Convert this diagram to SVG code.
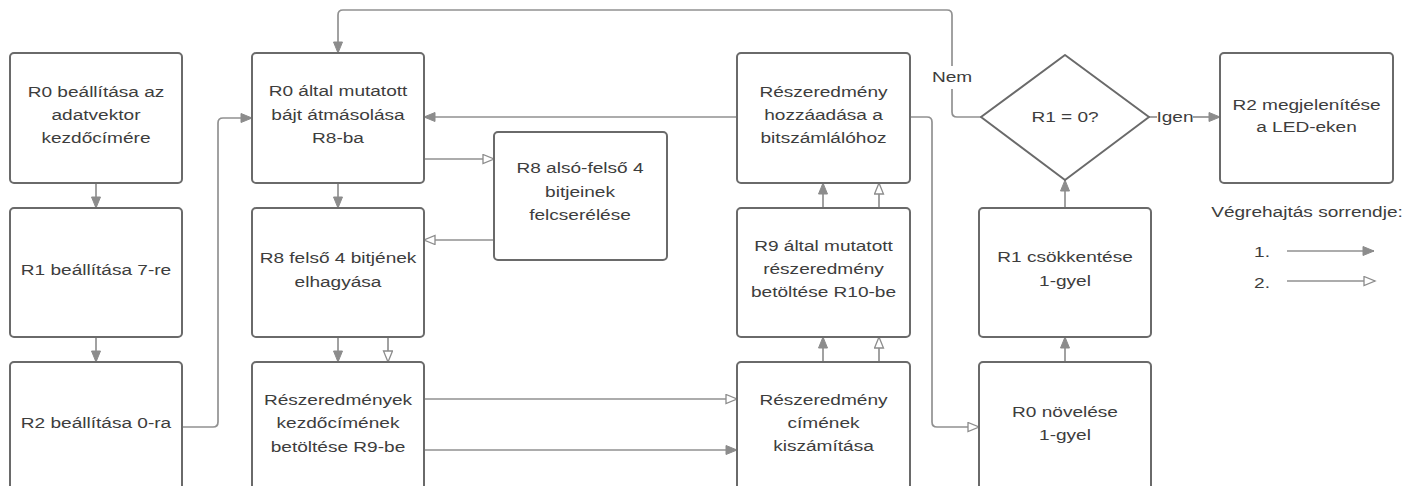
<svg xmlns="http://www.w3.org/2000/svg" width="1418" height="486" viewBox="0 0 1418 486">
<style>
.box{fill:#fff;stroke:#6a6a6a;stroke-width:2}
.t{font-family:"Liberation Sans",Arial,sans-serif;font-size:15.5px;fill:#3d3d3d;text-anchor:middle}
.c{fill:none;stroke:#919191;stroke-width:1.7}
.f{marker-end:url(#af)}
.h{marker-end:url(#ah)}
</style>
<defs>
<marker id="af" markerUnits="userSpaceOnUse" markerWidth="14" markerHeight="12" refX="12" refY="5" orient="auto">
<path d="M1,0.5 L12,5 L1,9.5 z" fill="#8c8c8c" stroke="#8c8c8c" stroke-width="1"/>
</marker>
<marker id="ah" markerUnits="userSpaceOnUse" markerWidth="14" markerHeight="12" refX="12" refY="5" orient="auto">
<path d="M1,0.5 L12,5 L1,9.5 z" fill="#fff" stroke="#8c8c8c" stroke-width="1.3"/>
</marker>
</defs>
<rect width="1418" height="486" fill="#fff"/>

<g id="connectors">
<path class="c f" d="M96 183 V208"/>
<path class="c f" d="M96 337 V362"/>
<path class="c f" d="M182 427 H213 Q218 427 218 422 V123 Q218 118 223 118 H252"/>
<path class="c" d="M981 117 H957 Q952 117 952 112 V89"/>
<path class="c f" d="M952 66 V15 Q952 10 947 10 H343 Q338 10 338 15 V53"/>
<path class="c f" d="M338 183 V208"/>
<path class="c h" d="M424 159 H494"/>
<path class="c h" d="M494 240 H424"/>
<path class="c f" d="M338 337 V362"/>
<path class="c h" d="M388 337 V362"/>
<path class="c h" d="M424 399 H737"/>
<path class="c f" d="M424 450 H737"/>
<path class="c f" d="M823 362 V337"/>
<path class="c h" d="M879 362 V337"/>
<path class="c f" d="M823 208 V183"/>
<path class="c h" d="M879 208 V183"/>
<path class="c f" d="M737 117 H424"/>
<path class="c h" d="M910 117 H927 Q932 117 932 122 V422 Q932 427 937 427 H979"/>
<path class="c f" d="M1065 362 V337"/>
<path class="c f" d="M1065 208 V180"/>
<path class="c" d="M1149 117 H1157"/>
<path class="c f" d="M1193 117 H1220"/>
<text class="t" transform="translate(952 0) scale(1.23 1)" x="0" y="82">Nem</text>
<text class="t" transform="translate(1175 0) scale(1.23 1)" x="0" y="122">Igen</text>
</g>

<g id="n1"><rect class="box" x="10" y="53" width="172" height="130" rx="4"/>
<text class="t" transform="translate(96 0) scale(1.23 1)"><tspan x="0" y="97">R0 beállítása az</tspan><tspan x="0" y="120">adatvektor</tspan><tspan x="0" y="143">kezdőcímére</tspan></text></g>

<g id="n2"><rect class="box" x="10" y="208" width="172" height="129" rx="4"/>
<text class="t" transform="translate(96 0) scale(1.23 1)"><tspan x="0" y="275">R1 beállítása 7-re</tspan></text></g>

<g id="n3"><rect class="box" x="10" y="362" width="172" height="132" rx="4"/>
<text class="t" transform="translate(96 0) scale(1.23 1)"><tspan x="0" y="428">R2 beállítása 0-ra</tspan></text></g>

<g id="n4"><rect class="box" x="252" y="53" width="172" height="130" rx="4"/>
<text class="t" transform="translate(338 0) scale(1.23 1)"><tspan x="0" y="96">R0 által mutatott</tspan><tspan x="0" y="120">bájt átmásolása</tspan><tspan x="0" y="143">R8-ba</tspan></text></g>

<g id="n5"><rect class="box" x="252" y="208" width="172" height="129" rx="4"/>
<text class="t" transform="translate(338 0) scale(1.23 1)"><tspan x="0" y="263">R8 felső 4 bitjének</tspan><tspan x="0" y="287">elhagyása</tspan></text></g>

<g id="n6"><rect class="box" x="252" y="362" width="172" height="132" rx="4"/>
<text class="t" transform="translate(338 0) scale(1.23 1)"><tspan x="0" y="405">Részeredmények</tspan><tspan x="0" y="428">kezdőcímének</tspan><tspan x="0" y="452">betöltése R9-be</tspan></text></g>

<g id="n7"><rect class="box" x="494" y="132" width="173" height="128" rx="4"/>
<text class="t" transform="translate(580 0) scale(1.23 1)"><tspan x="0" y="173">R8 alsó-felső 4</tspan><tspan x="0" y="197">bitjeinek</tspan><tspan x="0" y="220">felcserélése</tspan></text></g>

<g id="n8"><rect class="box" x="737" y="53" width="173" height="130" rx="4"/>
<text class="t" transform="translate(823.5 0) scale(1.23 1)"><tspan x="0" y="97">Részeredmény</tspan><tspan x="0" y="120">hozzáadása a</tspan><tspan x="0" y="143">bitszámlálóhoz</tspan></text></g>

<g id="n9"><rect class="box" x="737" y="208" width="173" height="129" rx="4"/>
<text class="t" transform="translate(823.5 0) scale(1.23 1)"><tspan x="0" y="251">R9 által mutatott</tspan><tspan x="0" y="274">részeredmény</tspan><tspan x="0" y="297">betöltése R10-be</tspan></text></g>

<g id="n10"><rect class="box" x="737" y="362" width="173" height="132" rx="4"/>
<text class="t" transform="translate(823.5 0) scale(1.23 1)"><tspan x="0" y="405">Részeredmény</tspan><tspan x="0" y="428">címének</tspan><tspan x="0" y="451">kiszámítása</tspan></text></g>

<g id="n11"><path class="box" d="M1065 55 L1149 117 L1065 180 L981 117 Z" stroke-linejoin="round"/>
<text class="t" transform="translate(1065 0) scale(1.23 1)" x="0" y="122">R1 = 0?</text></g>

<g id="n12"><rect class="box" x="979" y="208" width="172" height="129" rx="4"/>
<text class="t" transform="translate(1065 0) scale(1.23 1)"><tspan x="0" y="262">R1 csökkentése</tspan><tspan x="0" y="286">1-gyel</tspan></text></g>

<g id="n13"><rect class="box" x="979" y="362" width="172" height="132" rx="4"/>
<text class="t" transform="translate(1065 0) scale(1.23 1)"><tspan x="0" y="417">R0 növelése</tspan><tspan x="0" y="440">1-gyel</tspan></text></g>

<g id="n14"><rect class="box" x="1220" y="53" width="173" height="130" rx="4"/>
<text class="t" transform="translate(1306.5 0) scale(1.23 1)"><tspan x="0" y="110">R2 megjelenítése</tspan><tspan x="0" y="132">a LED-eken</tspan></text></g>

<g id="legend">
<text class="t" transform="translate(1307 0) scale(1.23 1)" x="0" y="217">Végrehajtás sorrendje:</text>
<text class="t" transform="translate(1262 0) scale(1.23 1)" x="0" y="257">1.</text>
<text class="t" transform="translate(1262 0) scale(1.23 1)" x="0" y="288">2.</text>
<path class="c f" d="M1287 251 H1374"/>
<path class="c h" d="M1287 281 H1375"/>
</g>
</svg>
